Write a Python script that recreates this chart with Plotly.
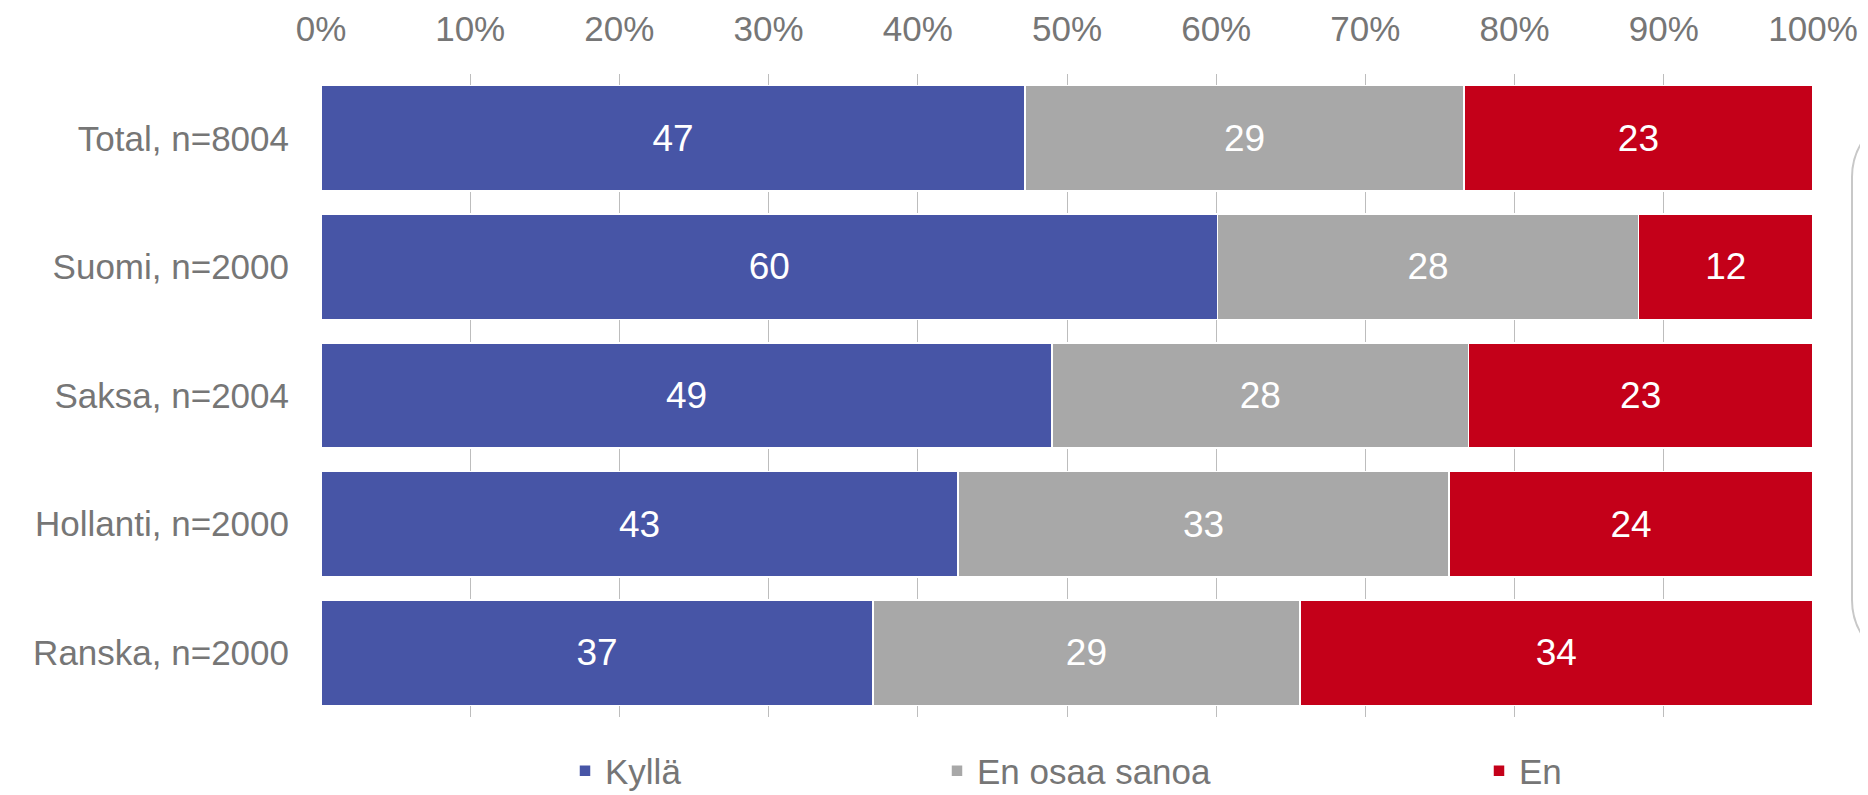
import plotly.graph_objects as go

# data (percent of respondents)
groups = ["Total, n=8004", "Suomi, n=2000", "Saksa, n=2004", "Hollanti, n=2000", "Ranska, n=2000"]
kylla = [47.2, 60.1, 49.0, 42.7, 37.0]
en_osaa = [29.4, 28.2, 27.9, 32.9, 28.6]
en = [23.4, 11.7, 23.1, 24.4, 34.4]
series_names = ["Kyllä", "En osaa sanoa", "En"]
tick_vals = [0, 10, 20, 30, 40, 50, 60, 70, 80, 90, 100]
tick_text = ["0%", "10%", "20%", "30%", "40%", "50%", "60%", "70%", "80%", "90%", "100%"]

colors = ['#4755A6', '#A8A8A8', '#C40019']
txt_grey = '#767676'
FONT = "Liberation Sans, Arial, sans-serif"

# page body has an 8px margin, so the figure is 8px smaller than the window
OFF = 8
L, R, T, B = 321 - OFF, 55, 74 - OFF, 78
FW, FH = 1868 - OFF, 795 - OFF
W = FW - L - R
H = FH - T - B

fig = go.Figure()
for vals, name, c, lg in zip([kylla, en_osaa, en], series_names, colors,
                             ["legend", "legend2", "legend3"]):
    fig.add_trace(go.Bar(
        y=groups, x=vals, name=name, orientation='h',
        marker=dict(color=c, line=dict(color='white', width=1.5)),
        texttemplate="%{x:.0f}", textposition='inside',
        insidetextanchor='middle',
        textfont=dict(color='white', size=37, family=FONT),
        legend=lg, showlegend=True,
    ))

# rounded frame peeking in at the right edge (pixel positions -> paper)
def px_x(x):
    return (x - OFF - L) / W

def px_y(y):
    return (FH - B - (y - OFF)) / H

x0 = px_x(1852)
x1 = px_x(1940)
yt = px_y(112)
yb = px_y(665)
rx = 65 / W
ry = 65 / H
k = 0.45
path = (f"M{x1},{yt} L{x0+rx},{yt} "
        f"C{x0+rx*k},{yt} {x0},{yt-ry*k} {x0},{yt-ry} "
        f"L{x0},{yb+ry} "
        f"C{x0},{yb+ry*k} {x0+rx*k},{yb} {x0+rx},{yb} L{x1},{yb}")
fig.add_shape(type='path', path=path, xref='paper', yref='paper',
              line=dict(color='#C8C8C8', width=2), layer='above')

leg = dict(orientation='h', yanchor='middle', y=px_y(771), xanchor='left',
           bgcolor='rgba(0,0,0,0)', borderwidth=0,
           font=dict(size=35, color=txt_grey, family=FONT))

fig.update_layout(
    width=FW, height=FH,
    barmode='stack', bargap=0.18,
    margin=dict(l=L, r=R, t=T, b=B, autoexpand=False),
    paper_bgcolor='white', plot_bgcolor='white',
    font=dict(family=FONT, color=txt_grey, size=35),
    legend=dict(leg, x=px_x(565)),
    legend2=dict(leg, x=px_x(937)),
    legend3=dict(leg, x=px_x(1479)),
    xaxis=dict(
        side='top', range=[0, 100], tickmode='array',
        tickvals=tick_vals, ticktext=tick_text,
        showgrid=True, gridcolor='#BDBDBD', gridwidth=1,
        zeroline=False, showline=False, ticks='',
        ticklabelstandoff=25,
        tickfont=dict(size=35, color=txt_grey),
    ),
    yaxis=dict(
        autorange='reversed', showgrid=False, showline=False, ticks='',
        ticklabelstandoff=31,
        tickfont=dict(size=35, color=txt_grey),
    ),
)

fig.write_html("out.html")
